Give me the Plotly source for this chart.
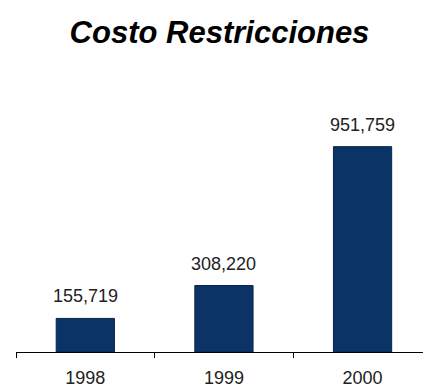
import plotly.graph_objects as go

years = ["1998", "1999", "2000"]
costs = [155719, 308220, 951759]
labels = ["155,719", "308,220", "951,759"]

bar_color = "#0c3365"
font_family = "Liberation Sans, Arial, sans-serif"

fig = go.Figure()
fig.add_trace(go.Bar(
    x=years,
    y=costs,
    width=0.42,
    marker=dict(color=bar_color, line=dict(color="#06254d", width=1)),
    hoverinfo="skip",
))

# value labels above each bar (category axis positions are serial indices)
for i, (val, lab) in enumerate(zip(costs, labels)):
    fig.add_annotation(
        x=i, y=val, xref="x", yref="y",
        text=lab, showarrow=False,
        yanchor="middle", yshift=22,
        font=dict(family=font_family, size=18, color="#222222"),
    )

fig.update_layout(
    width=423, height=388,
    margin=dict(l=16, r=0, t=100, b=34),
    paper_bgcolor="white", plot_bgcolor="white",
    showlegend=False,
    title=dict(
        text="<b><i>Costo Restricciones</i></b>",
        x=0.5, xanchor="center", xref="paper",
        y=1 - 32 / 388, yanchor="middle", yref="container",
        font=dict(family=font_family, size=31, color="black"),
    ),
    xaxis=dict(
        type="category",
        range=[-0.5, 2.436],
        showline=True, linecolor="black", linewidth=1,
        ticks="outside", tickson="boundaries", ticklen=5,
        tickcolor="black", tickwidth=1,
        ticklabelstandoff=9,
        tickfont=dict(family=font_family, size=18, color="#222222"),
        showgrid=False, zeroline=False,
    ),
    yaxis=dict(
        range=[0, 1168000],
        visible=False, showgrid=False, zeroline=False,
    ),
)

fig.write_html("out.html")
